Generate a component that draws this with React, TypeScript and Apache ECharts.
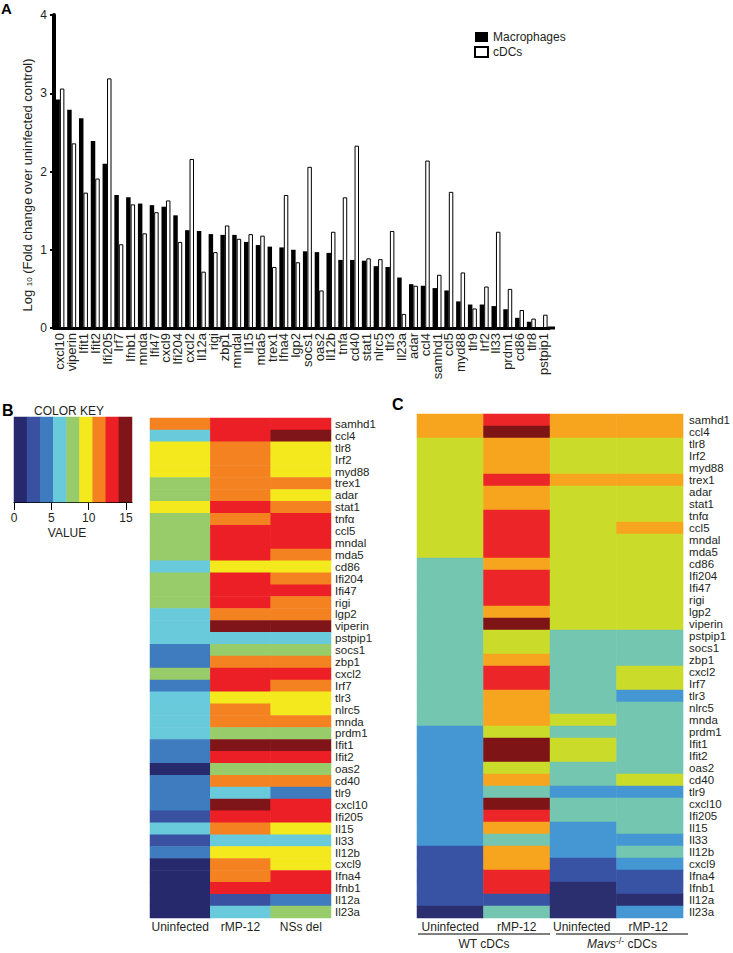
import React, { useEffect, useRef } from 'react';
import * as echarts from 'echarts';

const FONT = 'Liberation Sans, Arial, Helvetica, sans-serif';

// Panel A
const barGenes = ['cxcl10','viperin','Ifit1','Ifit2','Ifi205','Irf7','Ifnb1','mnda','Ifi47','cxcl9','Ifi204','cxcl2','Il12a','rigi','zbp1','mndal','Il15','mda5','trex1','Ifna4','lgp2','socs1','oas2','Il12b','tnfa','cd40','stat1','nlrc5','tlr3','Il23a','adar','ccl4','samhd1','ccl5','myd88','tlr9','Irf2','Il33','prdm1','cd86','tlr8','pstpip1'];
const macrophages = [2.92,2.79,2.68,2.39,2.10,1.70,1.67,1.59,1.57,1.55,1.44,1.25,1.24,1.20,1.19,1.19,1.10,1.06,1.04,1.03,1.00,0.98,0.97,0.96,0.87,0.87,0.86,0.79,0.78,0.645,0.56,0.54,0.51,0.48,0.34,0.30,0.30,0.28,0.24,0.13,0.08,0.01];
const cDCs = [3.06,2.36,1.73,1.91,3.19,1.07,1.58,1.21,1.48,1.63,1.10,2.16,0.72,0.97,1.31,1.14,1.20,1.18,0.78,1.70,0.84,2.06,0.48,1.23,1.67,2.33,0.89,0.88,1.24,0.18,0.54,2.14,0.68,1.74,0.71,0.25,0.53,1.23,0.50,0.23,0.12,0.17];
const yTicksA = [0, 1, 2, 3, 4];

// Panels B and C
const heatGenes = ['samhd1','ccl4','tlr8','Irf2','myd88','trex1','adar','stat1','tnfα','ccl5','mndal','mda5','cd86','Ifi204','Ifi47','rigi','lgp2','viperin','pstpip1','socs1','zbp1','cxcl2','Irf7','tlr3','nlrc5','mnda','prdm1','Ifit1','Ifit2','oas2','cd40','tlr9','cxcl10','Ifi205','Il15','Il33','Il12b','cxcl9','Ifna4','Ifnb1','Il12a','Il23a'];
const colsB = ['Uninfected', 'rMP-12', 'NSs del'];
const levelsB = [
  [6,7,7],[3,7,8],[5,6,5],[5,6,5],[5,6,5],[4,6,6],[4,6,5],[5,7,6],[4,6,7],[4,7,7],
  [4,7,7],[4,7,6],[3,5,5],[4,7,6],[4,7,7],[4,7,6],[3,6,6],[3,8,8],[3,3,3],[2,4,4],
  [2,6,6],[4,7,7],[2,7,6],[3,5,5],[3,6,5],[3,6,6],[3,4,4],[2,8,8],[2,7,7],[0,4,4],
  [2,6,6],[2,3,2],[2,8,7],[1,7,7],[3,6,5],[1,3,3],[2,5,5],[0,6,5],[0,6,7],[0,7,7],
  [0,1,2],[0,3,4]
];
const colsC = ['Uninfected', 'rMP-12', 'Uninfected ', 'rMP-12 '];
const levelsC = [
  [5,6,5,5],[5,7,5,5],[4,5,4,4],[4,5,4,4],[4,5,4,4],[4,6,5,5],[4,5,4,4],[4,5,4,4],[4,6,4,4],[4,6,4,5],
  [4,6,4,4],[4,6,4,4],[3,5,4,4],[3,6,4,4],[3,6,4,4],[3,6,4,4],[3,5,4,4],[3,7,4,4],[3,4,3,3],[3,4,3,3],
  [3,5,3,3],[3,6,3,4],[3,6,3,4],[3,5,3,2],[3,5,3,3],[3,5,4,3],[2,4,3,3],[2,7,4,3],[2,7,4,3],[2,4,3,3],
  [2,5,3,4],[2,3,2,2],[2,7,3,3],[2,6,3,3],[2,5,2,3],[2,3,2,2],[1,5,2,3],[1,5,1,2],[1,6,1,1],[1,6,0,1],
  [1,1,0,0],[0,3,0,2]
];
const keyColorsB = ['#262a6c','#3a50a0','#3e7bbf','#69cadc','#98cb6a','#f3e91c','#f58220','#ed1f26','#7f1518'];
const keyColorsC = ['#2b2e6f','#3953a4','#4597d4','#74c6b0','#cbdb2a','#f7a41f','#ec2628','#7e1416'];
const keyLevels = [0,1,2,3,4,5,6,7,8];
const keyTickMax = 15;

function heatData(levels: number[][]) {
  const out: number[][] = [];
  levels.forEach((row, r) => row.forEach((v, c) => out.push([c, r, v])));
  return out;
}

export default function App() {
  const ref = useRef<HTMLDivElement>(null);
  useEffect(() => {
    const chart = echarts.init(ref.current!, null, { renderer: 'svg' });
    const txt = { fontFamily: FONT, color: '#231f20' };
    const option: any = {
      animation: false,
      backgroundColor: '#fff',
      textStyle: { fontFamily: FONT },
      legend: {
        data: ['Macrophages', 'cDCs'],
        orient: 'vertical',
        left: 474, top: 31,
        itemWidth: 13, itemHeight: 10, itemGap: 3,
        padding: 0,
        icon: 'rect',
        textStyle: { ...txt, fontSize: 12, padding: [0, 0, 0, 0] },
      },
      grid: [
        { left: 54, top: 15, width: 495, height: 313 },
        { left: 14, top: 417, width: 118, height: 85 },
        { left: 14, top: 417, width: 112, height: 85 },
        { left: 150, top: 418, width: 181, height: 500 },
        { left: 417, top: 414, width: 272, height: 504 },
      ],
      xAxis: [
        {
          gridIndex: 0, type: 'category', data: barGenes,
          axisLine: { lineStyle: { color: '#000', width: 3 } },
          axisTick: { alignWithLabel: true, length: 3, lineStyle: { color: '#000', width: 3 } },
          axisLabel: { ...txt, rotate: 90, interval: 0, fontSize: 13, margin: 5 },
        },
        {
          gridIndex: 1, type: 'category', data: keyLevels.map(String),
          axisLine: { show: true, lineStyle: { color: '#000', width: 1 } },
          axisTick: { show: false }, axisLabel: { show: false },
        },
        {
          gridIndex: 2, type: 'value', min: 0, max: keyTickMax, interval: 5,
          axisLine: { show: false },
          axisTick: { show: true, length: 8, lineStyle: { color: '#000', width: 1 } },
          axisLabel: { ...txt, fontSize: 12, margin: 10 },
          splitLine: { show: false },
        },
        {
          gridIndex: 3, type: 'category', data: colsB,
          axisLine: { show: false }, axisTick: { show: false },
          axisLabel: { ...txt, fontSize: 12, margin: 3, interval: 0 },
        },
        {
          gridIndex: 4, type: 'category', data: colsC,
          axisLine: { show: false }, axisTick: { show: false },
          axisLabel: { ...txt, fontSize: 12, margin: 3, interval: 0 },
        },
      ],
      yAxis: [
        {
          gridIndex: 0, type: 'value', min: yTicksA[0], max: yTicksA[yTicksA.length - 1], interval: 1,
          axisLine: { show: true, lineStyle: { color: '#000', width: 4 } },
          axisTick: { show: true, length: 4, lineStyle: { color: '#000', width: 2 } },
          axisLabel: { ...txt, fontSize: 12, margin: 7 },
          splitLine: { show: false },
        },
        { gridIndex: 1, type: 'category', data: ['key'], show: false },
        { gridIndex: 2, type: 'value', show: false },
        {
          gridIndex: 3, type: 'category', data: heatGenes, inverse: true, position: 'right',
          axisLine: { show: false }, axisTick: { show: false },
          axisLabel: { ...txt, fontSize: 11.5, margin: 4, interval: 0 },
        },
        {
          gridIndex: 4, type: 'category', data: heatGenes, inverse: true, position: 'right',
          axisLine: { show: false }, axisTick: { show: false },
          axisLabel: { ...txt, fontSize: 11.5, margin: 6, interval: 0 },
        },
      ],
      visualMap: [
        {
          type: 'piecewise', show: false, dimension: 2, seriesIndex: [2, 4],
          pieces: keyColorsB.map((c, i) => ({ value: i, color: c })),
        },
        {
          type: 'piecewise', show: false, dimension: 2, seriesIndex: [5],
          pieces: keyColorsC.map((c, i) => ({ value: i, color: c })),
        },
      ],
      series: [
        {
          name: 'Macrophages', type: 'bar', xAxisIndex: 0, yAxisIndex: 0,
          data: macrophages, barGap: '0%', barCategoryGap: '24%',
          itemStyle: { color: '#000' },
        },
        {
          name: 'cDCs', type: 'bar', xAxisIndex: 0, yAxisIndex: 0,
          data: cDCs, barGap: '0%', barCategoryGap: '24%',
          itemStyle: { color: '#fff', borderColor: '#000', borderWidth: 1 },
        },
        {
          name: 'key', type: 'heatmap', xAxisIndex: 1, yAxisIndex: 1,
          data: keyLevels.map((l, i) => [i, 0, l]),
        },
        { name: 'keyticks', type: 'scatter', xAxisIndex: 2, yAxisIndex: 2, data: [] },
        {
          name: 'B', type: 'heatmap', xAxisIndex: 3, yAxisIndex: 3,
          data: heatData(levelsB),
        },
        {
          name: 'C', type: 'heatmap', xAxisIndex: 4, yAxisIndex: 4,
          data: heatData(levelsC),
        },
      ],
      graphic: [
        { type: 'text', left: 1, top: 1, style: { text: 'A', font: `bold 15px ${FONT}`, fill: '#000' } },
        { type: 'text', left: 2, top: 402, style: { text: 'B', font: `bold 16px ${FONT}`, fill: '#000' } },
        { type: 'text', left: 392, top: 396, style: { text: 'C', font: `bold 16px ${FONT}`, fill: '#000' } },
        {
          type: 'text', x: 27, y: 185, rotation: Math.PI / 2,
          style: {
            text: '{a|Log }{s|10}{a| (Fold change over uninfected control)}',
            align: 'center', verticalAlign: 'middle',
            rich: {
              a: { fontSize: 13, fontFamily: FONT, fill: '#231f20' },
              s: { fontSize: 8, fontFamily: FONT, fill: '#231f20', padding: [5, 0, 0, 0] },
            },
          },
        },
        { type: 'line', shape: { x1: 548, y1: 328, x2: 555, y2: 328 }, style: { stroke: '#000', lineWidth: 3 } },
        { type: 'text', x: 69, y: 411, style: { text: 'COLOR KEY', align: 'center', verticalAlign: 'middle', font: `12px ${FONT}`, fill: '#231f20' } },
        { type: 'text', x: 67, y: 533, style: { text: 'VALUE', align: 'center', verticalAlign: 'middle', font: `12px ${FONT}`, fill: '#231f20' } },
        { type: 'line', shape: { x1: 418, y1: 934, x2: 550, y2: 934 }, style: { stroke: '#000', lineWidth: 1 } },
        { type: 'line', shape: { x1: 556, y1: 934, x2: 688, y2: 934 }, style: { stroke: '#000', lineWidth: 1 } },
        { type: 'text', x: 484, y: 944, style: { text: 'WT cDCs', align: 'center', verticalAlign: 'middle', font: `12px ${FONT}`, fill: '#231f20' } },
        {
          type: 'text', x: 622, y: 944,
          style: {
            text: '{i|Mavs}{s|-/-}{n| cDCs}', align: 'center', verticalAlign: 'middle',
            rich: {
              i: { fontSize: 12, fontFamily: FONT, fontStyle: 'italic', fill: '#231f20' },
              s: { fontSize: 9, fontFamily: FONT, fill: '#231f20', padding: [0, 0, 6, 0] },
              n: { fontSize: 12, fontFamily: FONT, fill: '#231f20' },
            },
          },
        },
      ],
    };
    chart.setOption(option);
    return () => chart.dispose();
  }, []);
  return <div ref={ref} style={{ position: 'fixed', left: 0, top: 0, width: 733, height: 953 }} />;
}
